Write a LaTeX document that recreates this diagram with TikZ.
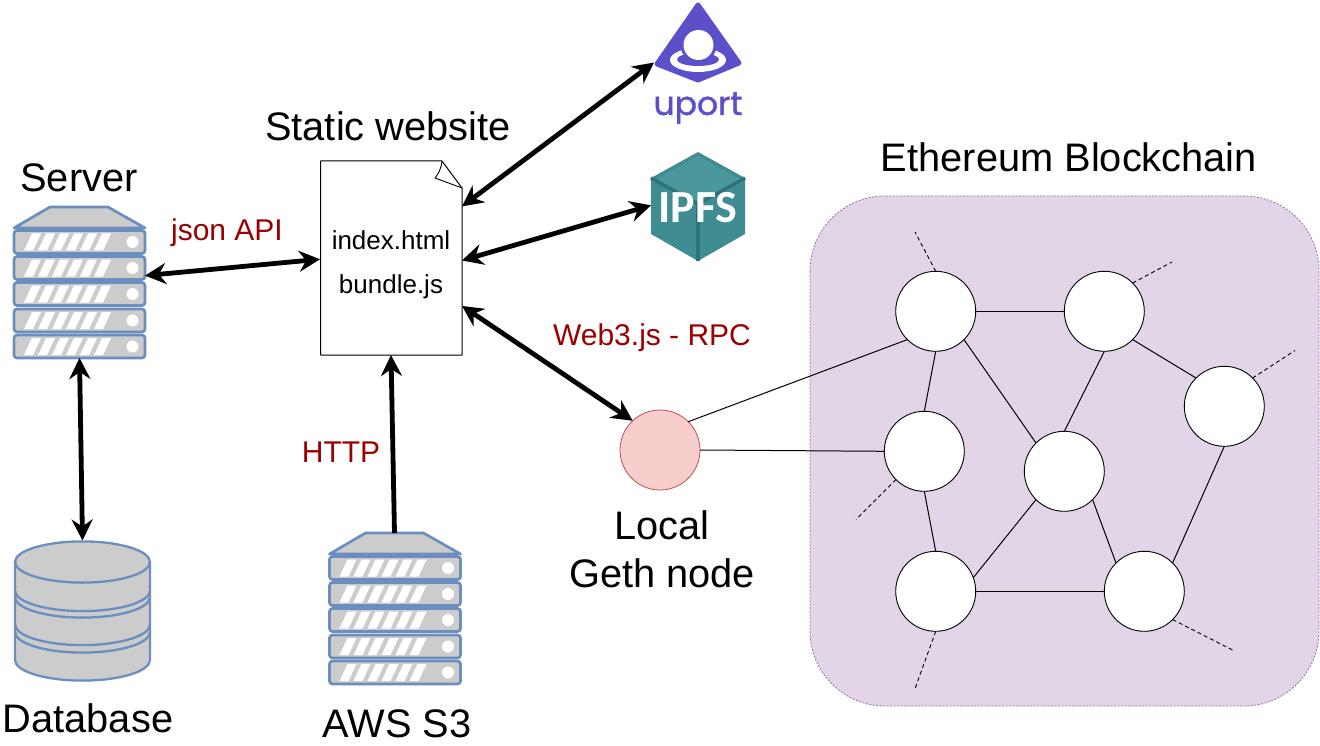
\documentclass[tikz,border=0pt]{standalone}
\usepackage{fontspec}
\setmainfont{Liberation Sans}
\newfontfamily\logofont[FakeBold=1.2]{Poppins}
\newfontfamily\ipfsfont{Carlito}
\usetikzlibrary{arrows.meta,calc}
\definecolor{srvline}{HTML}{6C8EBF}
\definecolor{srvfill}{HTML}{CCCCCC}
\definecolor{labelred}{HTML}{990000}
\definecolor{uportc}{HTML}{5C50CA}
\definecolor{ipfsc}{HTML}{3F8D92}
\definecolor{ipfsd}{HTML}{2E7378}
\definecolor{ipfsl}{HTML}{4A989C}
\definecolor{panelfill}{HTML}{E1D5E7}
\definecolor{panelline}{HTML}{9673A6}
\definecolor{gethfill}{HTML}{F8CECC}
\definecolor{gethline}{HTML}{B85450}
\tikzset{
  srvpart/.style={draw=srvline,fill=srvfill,line width=2.7pt,line join=round},
  slot/.style={fill=white,draw=none},
  dbpart/.style={draw=srvline,fill=srvfill,line width=2.3pt},
  dbline/.style={draw=srvline,line width=2.3pt},
  big/.style={font=\fontsize{39.8}{40}\selectfont,inner sep=0pt},
  mid/.style={font=\fontsize{26}{26}\selectfont,inner sep=0pt},
  redlabel/.style={font=\fontsize{30}{30}\selectfont,text=labelred,inner sep=0pt},
  ghost/.style={inner sep=0pt,outer sep=0pt,draw=none},
  twoway/.style={line width=4.8pt,{Stealth[length=21pt,width=21pt,inset=7pt]}-{Stealth[length=21pt,width=21pt,inset=7pt]}},
  oneway/.style={line width=4.8pt,-{Stealth[length=21pt,width=21pt,inset=7pt]}},
  peer/.style={circle,draw=black,fill=white,line width=0.9pt,minimum size=80pt,inner sep=0pt,outer sep=0pt},
  link/.style={draw=black,line width=1pt},
  stub/.style={draw=black,line width=0.9pt,dash pattern=on 4pt off 3pt},
}
\newcommand{\srvunit}[1]{%
  \draw[srvpart,rounded corners=3pt] (14,#1) rectangle (145,#1+23);
  \foreach \k in {0,...,5}{
    \fill[slot] (24+14*\k,#1+20) -- (32+14*\k,#1+3) -- (41+14*\k,#1+3) -- (33+14*\k,#1+20) -- cycle;
  }
  \fill[white] (132.5,#1+11.5) circle (6);
}
\newcommand{\srvstack}{%
  \draw[srvpart] (14,228) -- (50,207) -- (108,207) -- (145,228) -- cycle;
  \srvunit{230.5}\srvunit{256.5}\srvunit{282.5}\srvunit{309}\srvunit{335}%
}
\begin{document}
\begin{tikzpicture}[x=1pt,y=-1pt]
\useasboundingbox (0,0) rectangle (1320,746);

% panel
\draw[draw=panelline,fill=panelfill,line width=0.8pt,dash pattern=on 2pt off 1.5pt,rounded corners=75pt] (810,196) rectangle (1319,706);

% server
\begin{scope}\srvstack\end{scope}
\node[ghost,minimum width=131pt,minimum height=151pt] (server) at (79.5,282.5) {};

% S3
\begin{scope}[shift={(315.5,326)}]\srvstack\end{scope}
\node[ghost,minimum width=131pt,minimum height=151pt] (s3) at (394.5,608.5) {};

% database
\draw[dbpart] (15,562) -- (15,660) arc[start angle=180,end angle=0,x radius=67.5,y radius=20.6] -- (150,562) arc[start angle=0,end angle=-180,x radius=67.5,y radius=20.6] -- cycle;
\draw[dbline] (15,562) arc[start angle=180,end angle=0,x radius=67.5,y radius=20.6];
\draw[dbline] (15,590.5) arc[start angle=180,end angle=0,x radius=67.5,y radius=20.6];
\draw[dbline] (15,597) arc[start angle=180,end angle=0,x radius=67.5,y radius=20.6];
\draw[dbline] (15,624.5) arc[start angle=180,end angle=0,x radius=67.5,y radius=20.6];
\draw[dbline] (15,632) arc[start angle=180,end angle=0,x radius=67.5,y radius=20.6];
\node[ghost,minimum width=135pt,minimum height=141pt] (db) at (82.5,611) {};

% document
\draw[black,line width=1pt,fill=white,line join=round] (320.5,161) -- (442,161) -- (462,188) -- (462,355) -- (320.5,355) -- cycle;
\draw[black,line width=0.9pt,line join=round] (442,161) .. controls (441,170) and (438,174) .. (435,178) -- (462,188);
\node[ghost,minimum width=142pt,minimum height=194pt] (doc) at (391,258) {};
\node[mid] (index) at (391,240) {index.html};
\node[mid] (bundle) at (391,287) {bundle.js};

% uport
\node[ghost,minimum width=88pt,minimum height=84pt] (uport) at (698,42) {};
\fill[uportc,draw=uportc,line width=5pt,line join=round] (698,5) -- (657,64) -- (698,80) -- (739,63) -- cycle;
\fill[white] (698,60) ellipse[x radius=28,y radius=12];
\fill[uportc] (698,59.5) ellipse[x radius=21,y radius=6.5];
\fill[uportc] (698.5,45) circle (18);
\fill[white] (698.5,45) circle (15);
\node[anchor=base,inner sep=0pt,text=uportc,font=\logofont\fontsize{33}{33}\selectfont] (uporttxt) at (698,115) {uport};

% ipfs
\node[ghost,minimum width=94pt,minimum height=109pt] (ipfs) at (698,207) {};
\fill[ipfsc] (698,152) -- (745,178) -- (745,234) -- (698,261) -- (651,234) -- (651,178) -- cycle;
\fill[ipfsl] (698,156) -- (741,180) -- (698,203) -- (655,180) -- cycle;
\draw[ipfsd,line width=3.5pt] (651,178) -- (698,204) -- (745,178);
\draw[ipfsd,line width=3.5pt] (698,204) -- (698,261);
\node[anchor=base,inner sep=0pt,text=white,font=\ipfsfont\bfseries\fontsize{46}{46}\selectfont] (ipfstxt) at (698,223) {IPFS};

% peers
\node[peer] (pa) at (935.7,311.3) {};
\node[peer] (pb) at (1104.3,311.3) {};
\node[peer] (pc) at (1224.3,406.3) {};
\node[peer] (pd) at (924.3,451.3) {};
\node[peer] (pe) at (1064.3,471.3) {};
\node[peer] (pf) at (935.7,591.3) {};
\node[peer] (pg) at (1144.3,591.3) {};
\node[peer,fill=gethfill,draw=gethline,line width=0.8pt] (geth) at (660,450) {};

\draw[link] (pa.east) -- (pb.west);
\draw[link] (pa.south) -- (pd.north);
\draw[link] (pa.-45) -- (pe.135);
\draw[link] (pb.south) -- (pe.north);
\draw[link] (pb.-45) -- (pc.135);
\draw[link] (pd.south) -- (pf.north);
\draw[link] (pe.225) -- (pf.20);
\draw[link] (pe.-45) -- (pg.135);
\draw[link] (pc.south) -- (pg.45);
\draw[link] (pf.east) -- (pg.west);
\draw[link] (geth.45) -- (pa.225);
\draw[link] (geth.east) -- (pd.west);

\coordinate (sa) at (915,232);
\coordinate (sb) at (1172,262);
\coordinate (sc) at (1295,350.5);
\coordinate (sd) at (856,519.5);
\coordinate (sf) at (914.5,690);
\coordinate (sg) at (1234.5,651);
\draw[stub] (pa.north) -- (sa);
\draw[stub] (pb.45) -- (sb);
\draw[stub] (pc.45) -- (sc);
\draw[stub] (pd.225) -- (sd);
\draw[stub] (pf.south) -- (sf);
\draw[stub] (pg.-45) -- (sg);

% arrows
\draw[twoway] (server.6.5) -- (doc.181);
\draw[twoway] (server.south) -- (db.north);
\draw[oneway] (s3.north) -- (doc.south);
\draw[twoway] (doc.36.7) -- (uport.205);
\draw[twoway] (doc.-2) -- (ipfs.178);
\draw[twoway] (doc.-34.6) -- (geth.133);

% labels
\node[big] (t1) at (79,178) {Server};
\node[big] (t2) at (388,126) {Static website};
\node[big] (t3) at (1069,157) {Ethereum Blockchain};
\node[big] (t4) at (88,718) {Database};
\node[big] (t5) at (397,724) {AWS S3};
\node[big] (t6) at (662,525) {Local};
\node[big] (t7) at (662,573) {Geth node};
\node[redlabel] (l1) at (227,233) {json API};
\node[redlabel] (l2) at (341,452) {HTTP};
\node[redlabel] (l3) at (652,338) {Web3.js - RPC};
\end{tikzpicture}
\end{document}
